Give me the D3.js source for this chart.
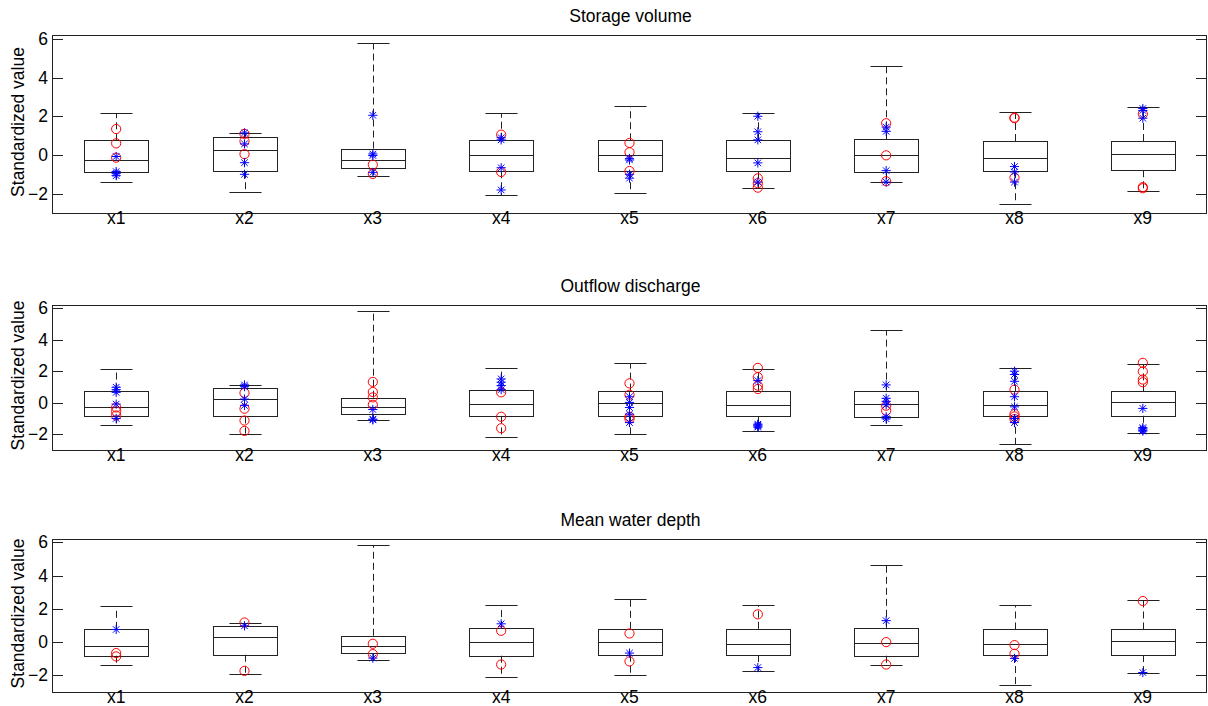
<!DOCTYPE html>
<html>
<head>
<meta charset="utf-8">
<script src="https://cdn.jsdelivr.net/npm/d3@7"></script>
<style>
  html, body { margin: 0; padding: 0; background: #fff; }
  svg { display: block; }
  text { font-family: "Liberation Sans", Arial, sans-serif; fill: #000; }
</style>
</head>
<body>
<svg id="chart" width="1208" height="706"></svg>
<script>
// Variables on the horizontal axis
const categories = ['x1', 'x2', 'x3', 'x4', 'x5', 'x6', 'x7', 'x8', 'x9'];
const panelTitles = ['Storage volume', 'Outflow discharge', 'Mean water depth'];
const yTickValues = [-2, 0, 2, 4, 6];
const yDomain = [-3, 6.2];

// Box summaries per variable: [lower whisker, Q1, median, Q3, upper whisker]
const storageBoxes = [
  [-1.40, -0.90, -0.24, 0.76, 2.15],
  [-1.93, -0.84, 0.24, 0.95, 1.12],
  [-1.07, -0.69, -0.27, 0.33, 5.77],
  [-2.08, -0.84, -0.02, 0.79, 2.17],
  [-1.96, -0.84, 0.02, 0.76, 2.53],
  [-1.72, -0.84, -0.17, 0.76, 2.17],
  [-1.40, -0.88, -0.02, 0.81, 4.58],
  [-2.55, -0.84, -0.16, 0.72, 2.20],
  [-1.86, -0.79, 0.05, 0.72, 2.46]
];
const outflowBoxes = [
  [-1.43, -0.87, -0.26, 0.77, 2.15],
  [-1.96, -0.87, 0.26, 0.94, 1.13],
  [-1.11, -0.74, -0.26, 0.32, 5.79],
  [-2.15, -0.87, -0.09, 0.83, 2.21],
  [-2.00, -0.87, -0.02, 0.77, 2.51],
  [-1.77, -0.87, -0.17, 0.77, 2.15],
  [-1.43, -0.89, -0.09, 0.77, 4.60],
  [-2.62, -0.83, -0.17, 0.72, 2.21],
  [-1.89, -0.83, 0.02, 0.72, 2.45]
];
const depthBoxes = [
  [-1.39, -0.82, -0.22, 0.80, 2.15],
  [-1.91, -0.76, 0.32, 0.98, 1.14],
  [-1.08, -0.66, -0.22, 0.38, 5.82],
  [-2.11, -0.82, 0.00, 0.84, 2.21],
  [-1.95, -0.76, 0.00, 0.80, 2.59],
  [-1.73, -0.78, -0.12, 0.80, 2.21],
  [-1.35, -0.82, -0.04, 0.86, 4.64],
  [-2.57, -0.78, -0.12, 0.76, 2.21],
  [-1.83, -0.78, 0.06, 0.76, 2.51]
];

// Red circle observations per variable
const storageCircles = [
  [1.34, 0.60, -0.14],
  [1.09, 0.71, 0.04],
  [-0.50, -0.98],
  [1.05, -0.88],
  [0.62, 0.14, -0.83],
  [-1.21, -1.46, -1.69],
  [1.64, -0.02, -1.36],
  [1.93, 1.90, -1.17],
  [2.12, -1.66, -1.72]
];
const outflowCircles = [
  [-0.30, -0.55, -0.81],
  [0.62, -0.38, -1.13, -1.79],
  [1.32, 0.68, 0.34, -0.13],
  [0.66, -0.89, -1.62],
  [1.23, 0.51, -0.89, -1.02],
  [2.21, 1.62, 1.08, 0.87],
  [-0.19, -0.51],
  [0.83, -0.72, -0.87, -1.04],
  [2.53, 1.98, 1.47, 1.30]
];
const depthCircles = [
  [-0.66, -0.86],
  [1.18, -1.73],
  [-0.10, -0.72],
  [0.68, -1.35],
  [0.52, -1.16],
  [1.67],
  [0.00, -1.35],
  [-0.18, -0.70],
  [2.47]
];

// Blue asterisk observations per variable
const storageStars = [
  [-0.08, -0.86, -0.95, -1.07],
  [1.14, 0.57, -0.40, -1.00],
  [2.05, 0.05, -0.03, -0.90],
  [0.89, 0.78, -0.66, -1.81],
  [-0.19, -0.26, -1.00, -1.20],
  [2.00, 1.20, 0.78, -0.41, -1.40],
  [1.44, 1.22, -0.81, -1.40],
  [-0.60, -0.88, -1.40],
  [2.40, 2.30, 1.90]
];
const outflowStars = [
  [0.98, 0.83, 0.66, -0.09, -1.00],
  [1.13, 1.02, 0.23, -0.17],
  [-0.43, -1.04, -1.09],
  [1.51, 1.30, 1.09, 0.83],
  [0.38, 0.02, -0.30, -0.72, -1.26],
  [1.40, -1.36, -1.42, -1.48, -1.55],
  [1.13, 0.28, 0.09, -0.13, -0.89, -1.02],
  [2.00, 1.79, 1.36, 0.38, -0.26, -1.00, -1.26],
  [-0.36, -1.58, -1.66, -1.74, -1.80]
];
const depthStars = [
  [0.76],
  [0.98],
  [-0.96],
  [1.10],
  [-0.66],
  [-1.53],
  [1.29],
  [-0.98],
  [-1.83]
];

const panels = [
  { title: panelTitles[0], boxes: storageBoxes, circles: storageCircles, stars: storageStars, top: 35, bottom: 213 },
  { title: panelTitles[1], boxes: outflowBoxes, circles: outflowCircles, stars: outflowStars, top: 305, bottom: 450 },
  { title: panelTitles[2], boxes: depthBoxes, circles: depthCircles, stars: depthStars, top: 539, bottom: 692 }
];

const left = 52, right = 1207;
const svg = d3.select('#chart');

const x = d3.scaleLinear().domain([0.5, categories.length + 0.5]).range([left, right]);
const boxHalf = x(1.25) - x(1);       // box half-width = 0.25 units
const capHalf = x(1.125) - x(1);      // whisker cap half-width
const tickLen = 11;
const fontSize = 17.5;
const lineColor = '#222';

// eight-armed asterisk path centred on (0,0)
function asteriskPath(r) {
  const d = r * Math.SQRT1_2;
  return `M${-r},0L${r},0M0,${-r}L0,${r}M${-d},${-d}L${d},${d}M${-d},${d}L${d},${-d}`;
}

panels.forEach(p => {
  const y = d3.scaleLinear().domain(yDomain).range([p.bottom, p.top]);
  const g = svg.append('g');

  // frame
  g.append('rect')
    .attr('x', left + 0.5).attr('y', p.top + 0.5)
    .attr('width', right - left - 1).attr('height', p.bottom - p.top)
    .attr('fill', 'none').attr('stroke', lineColor).attr('stroke-width', 1);

  // y ticks (inside, both sides) and labels
  yTickValues.forEach(v => {
    const yy = Math.round(y(v)) + 0.5;
    g.append('line').attr('x1', left).attr('x2', left + tickLen)
      .attr('y1', yy).attr('y2', yy).attr('stroke', lineColor);
    g.append('line').attr('x1', right - tickLen).attr('x2', right)
      .attr('y1', yy).attr('y2', yy).attr('stroke', lineColor);
    g.append('text').attr('x', 48).attr('y', y(v))
      .attr('dy', '0.35em').attr('text-anchor', 'end')
      .attr('font-size', fontSize).text(d3.format('d')(v));
  });

  // y axis title
  g.append('text')
    .attr('transform', `translate(24,${(p.top + p.bottom) / 2 - 2}) rotate(-90)`)
    .attr('text-anchor', 'middle').attr('font-size', fontSize)
    .text('Standardized value');

  // panel title
  g.append('text').attr('x', (left + right) / 2 + 1).attr('y', p.top - 13)
    .attr('text-anchor', 'middle').attr('font-size', fontSize).text(p.title);

  // category labels
  categories.forEach((c, i) => {
    g.append('text').attr('x', x(i + 1)).attr('y', p.bottom + 11)
      .attr('text-anchor', 'middle').attr('font-size', fontSize).text(c);
  });

  // boxes
  p.boxes.forEach((b, i) => {
    const [lo, q1, med, q3, hi] = b;
    const cx = Math.round(x(i + 1)) + 0.5;
    const bg = g.append('g');
    // whiskers (dashed)
    bg.append('line').attr('x1', cx).attr('x2', cx).attr('y1', y(q3)).attr('y2', y(hi))
      .attr('stroke', lineColor).attr('stroke-dasharray', '7,4');
    bg.append('line').attr('x1', cx).attr('x2', cx).attr('y1', y(q1)).attr('y2', y(lo))
      .attr('stroke', lineColor).attr('stroke-dasharray', '7,4');
    // caps
    [lo, hi].forEach(v => {
      const yy = Math.round(y(v)) + 0.5;
      bg.append('line').attr('x1', cx - capHalf).attr('x2', cx + capHalf)
        .attr('y1', yy).attr('y2', yy).attr('stroke', lineColor);
    });
    // box
    const bx = Math.round(cx - boxHalf) + 0.5, bw = Math.round(2 * boxHalf);
    const yTop = Math.round(y(q3)) + 0.5, yBot = Math.round(y(q1)) + 0.5;
    bg.append('rect').attr('x', bx).attr('y', yTop)
      .attr('width', bw).attr('height', yBot - yTop)
      .attr('fill', 'none').attr('stroke', lineColor);
    // median
    const ym = Math.round(y(med)) + 0.5;
    bg.append('line').attr('x1', bx).attr('x2', bx + bw)
      .attr('y1', ym).attr('y2', ym).attr('stroke', lineColor);
  });

  // red circles
  p.circles.forEach((vals, i) => {
    g.selectAll(null).data(vals).enter().append('circle')
      .attr('cx', x(i + 1)).attr('cy', d => y(d)).attr('r', 4.6)
      .attr('fill', 'none').attr('stroke', '#ff0000').attr('stroke-width', 1);
  });

  // blue asterisks
  p.stars.forEach((vals, i) => {
    g.selectAll(null).data(vals).enter().append('path')
      .attr('transform', d => `translate(${x(i + 1)},${y(d)})`)
      .attr('d', asteriskPath(4.6))
      .attr('fill', 'none').attr('stroke', '#0000ff').attr('stroke-width', 1);
  });
});
</script>
</body>
</html>
